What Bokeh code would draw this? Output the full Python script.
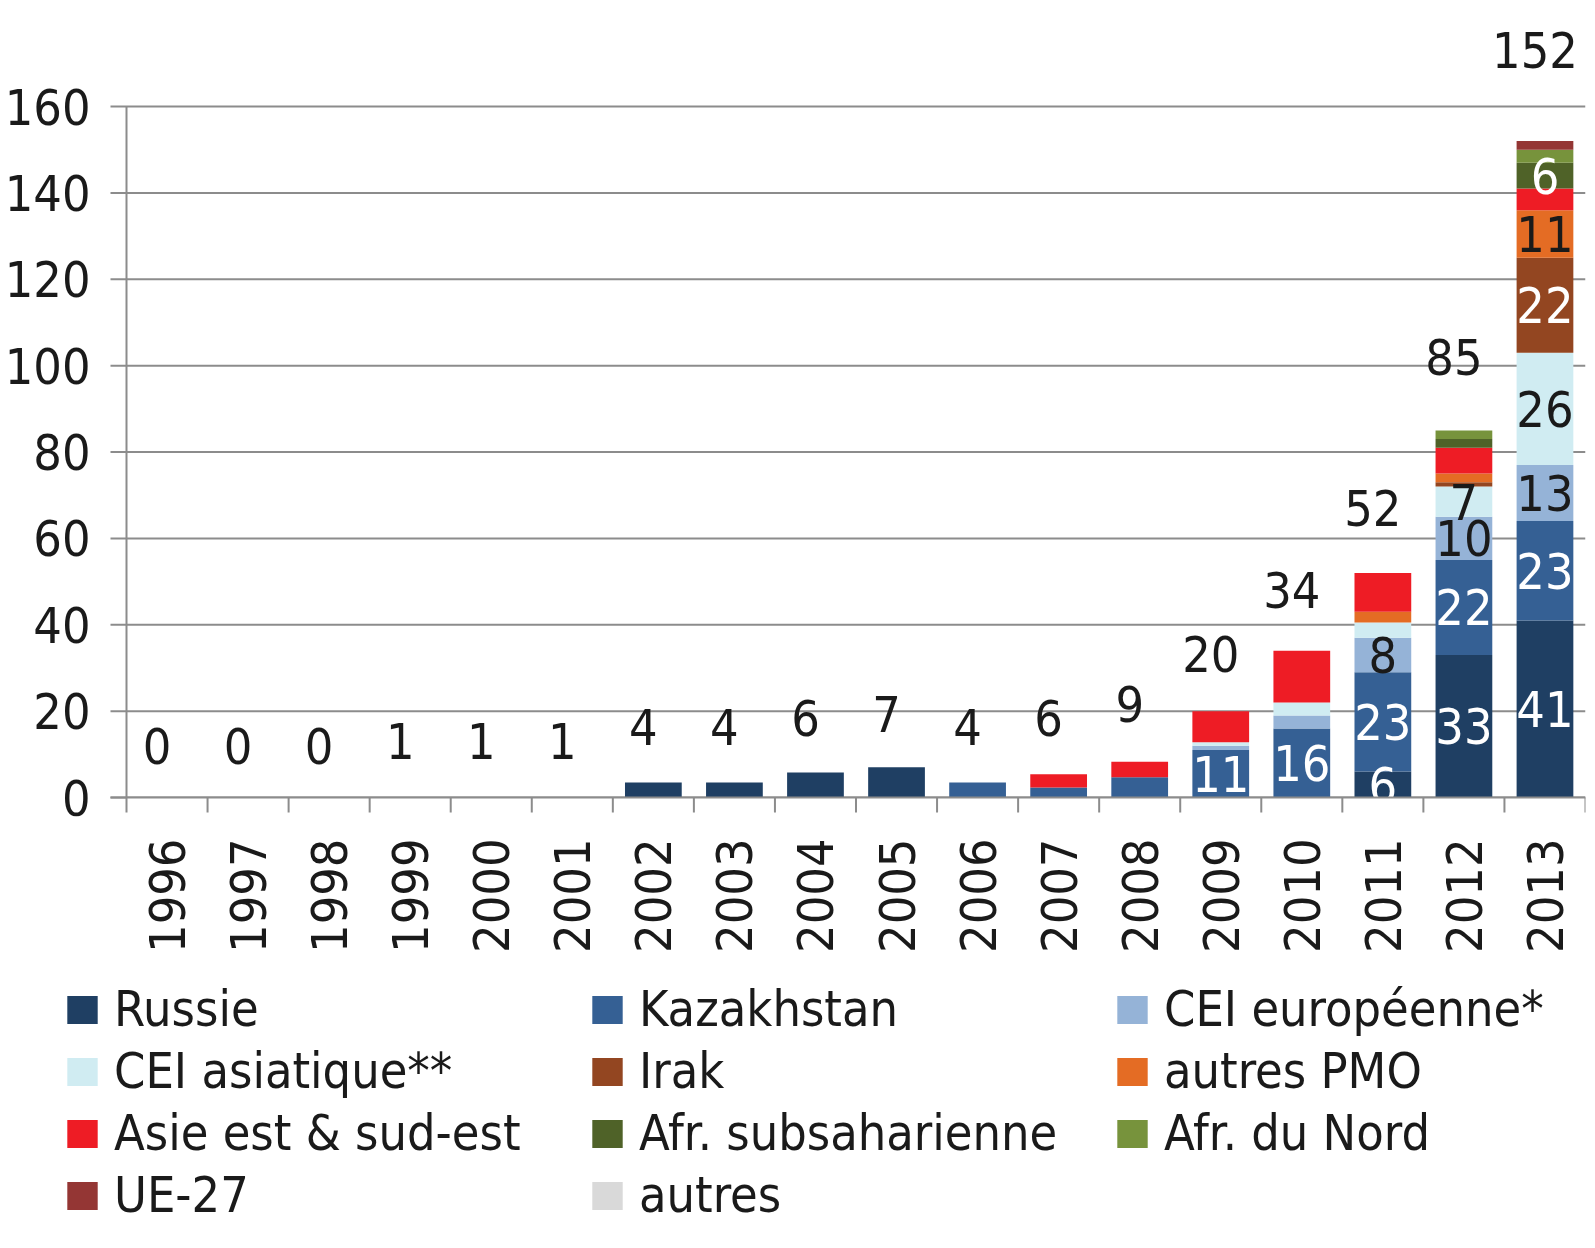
import math
from bokeh.plotting import figure
from bokeh.models import ColumnDataSource, Range1d, FixedTicker, Legend, LegendItem
from bokeh.layouts import column
from bokeh.embed import file_html
from bokeh.resources import INLINE
from bokeh.core.properties import value

# ---------------- data ----------------
years = ["1996", "1997", "1998", "1999", "2000", "2001", "2002", "2003", "2004",
         "2005", "2006", "2007", "2008", "2009", "2010", "2011", "2012", "2013"]
totals = [0, 0, 0, 1, 1, 1, 4, 4, 6, 7, 4, 6, 9, 20, 34, 52, 85, 152]

series_names = ["Russie", "Kazakhstan", "CEI européenne*", "CEI asiatique**", "Irak",
                "autres PMO", "Asie est & sud-est", "Afr. subsaharienne", "Afr. du Nord",
                "UE-27", "autres"]
russie       = [0, 0, 0, 0, 0, 0, 3.5, 3.5, 5.8, 7, 0, 0, 0, 0, 0, 6, 33, 41]
kazakhstan   = [0, 0, 0, 0, 0, 0, 0, 0, 0, 0, 3.5, 2.3, 4.7, 11, 16, 23, 22, 23]
cei_europe   = [0, 0, 0, 0, 0, 0, 0, 0, 0, 0, 0, 0, 0, 1, 3, 8, 10, 13]
cei_asie     = [0, 0, 0, 0, 0, 0, 0, 0, 0, 0, 0, 0, 0, 0.8, 3, 3.5, 7, 26]
irak         = [0, 0, 0, 0, 0, 0, 0, 0, 0, 0, 0, 0, 0, 0, 0, 0, 1, 22]
autres_pmo   = [0, 0, 0, 0, 0, 0, 0, 0, 0, 0, 0, 0, 0, 0, 0, 2.5, 2, 11]
asie_est     = [0, 0, 0, 0, 0, 0, 0, 0, 0, 0, 0, 3.1, 3.6, 7.2, 12, 9, 6, 5]
afr_sub      = [0, 0, 0, 0, 0, 0, 0, 0, 0, 0, 0, 0, 0, 0, 0, 0, 2, 6]
afr_nord     = [0, 0, 0, 0, 0, 0, 0, 0, 0, 0, 0, 0, 0, 0, 0, 0, 2, 3]
ue27         = [0, 0, 0, 0, 0, 0, 0, 0, 0, 0, 0, 0, 0, 0, 0, 0, 0, 2]
autres       = [0, 0, 0, 0, 0, 0, 0, 0, 0, 0, 0, 0, 0, 0, 0, 0, 0, 0]
series_values = [russie, kazakhstan, cei_europe, cei_asie, irak, autres_pmo,
                 asie_est, afr_sub, afr_nord, ue27, autres]

colors = ["#1f3f63", "#356094", "#95b3d7", "#d0ecf2", "#934621", "#e46c24",
          "#ee1c25", "#4f6228", "#77933c", "#943634", "#d9d9d9"]
# segments that carry a value label, and the label colour
label_series = {"Russie": "white", "Kazakhstan": "white", "CEI européenne*": "#1a1a1a",
                "CEI asiatique**": "#1a1a1a", "Irak": "white", "autres PMO": "#1a1a1a",
                "Afr. subsaharienne": "white"}
label_min = 6
label_from_year = "2009"
y_ticks = [0, 20, 40, 60, 80, 100, 120, 140, 160]

FONT = "DejaVu Sans Condensed, Roboto, sans-serif"
TXT = "#1a1a1a"
GRID = "#8c8c8c"
FS = "50px"

# ---------------- geometry (screen px) ----------------
W = 1587
FRAME_W = W - 2            # frame spans the figure from its left edge
AXIS_GAP = 126             # room for the y tick labels, left of the first category
TICK = 16                  # y tick length
XTICK = 15                 # x boundary tick length
PX_PER_Y = 4.319           # vertical scale
Y_TOP = 182                # headroom for the total labels
BELOW = 19                 # room under the zero line inside the frame
n = len(years)
px_per_cat = (FRAME_W - AXIS_GAP) / n
x_start = -0.5 - AXIS_GAP / px_per_cat
x_end = n - 0.5
y_start = -BELOW / PX_PER_Y
frame_h = round((Y_TOP - y_start) * PX_PER_Y)
top_border = 11
bottom_border = 150

# ---------------- chart ----------------
xs = list(range(n))
keys = ["s%d" % i for i in range(len(series_names))]
data = {"x": xs}
for k, v in zip(keys, series_values):
    data[k] = v
source = ColumnDataSource(data)

p = figure(width=W, height=top_border + frame_h + bottom_border,
           x_range=Range1d(x_start, x_end), y_range=Range1d(y_start, Y_TOP),
           output_backend="svg", toolbar_location=None,
           min_border_left=0, min_border_right=2, min_border_top=top_border,
           min_border_bottom=bottom_border)
p.outline_line_color = None
p.background_fill_color = "white"
p.border_fill_color = "white"
p.yaxis.visible = False
p.grid.visible = False

# horizontal grid lines (with their outward tick) and y axis line, under the bars
ny = len(y_ticks)
p.segment(x0=[-0.5 - TICK / px_per_cat] * ny, y0=y_ticks, x1=[x_end] * ny, y1=y_ticks,
          line_color=GRID, line_width=2)
p.segment(x0=[-0.5], y0=[0], x1=[-0.5], y1=[max(y_ticks)], line_color=GRID, line_width=2)

renderers = p.vbar_stack(keys, x="x", width=0.7, color=colors, line_color=None, source=source)

# segment labels
lx, ly, lt, lc = [], [], [], []
start = years.index(label_from_year)
for i in xs:
    bottom = 0
    for name, vals in zip(series_names, series_values):
        v = vals[i]
        if i >= start and name in label_series and v >= label_min:
            lx.append(i)
            ly.append(bottom + v / 2)
            lt.append("%g" % v)
            lc.append(label_series[name])
        bottom += v
p.text(x=lx, y=ly, text=lt, text_color=lc, text_align="center", text_baseline="middle",
       text_font=value(FONT), text_font_size=FS)

# total labels, placed above each bar (gap grows a little with the bar)
label_y = [t * 1.06 + 12 for t in totals]
p.text(x=xs, y=label_y, text=[str(t) for t in totals], text_color=TXT, text_align="center",
       text_baseline="middle", x_offset=-10,
       text_font=value(FONT), text_font_size=FS)

# mask below the zero line (labels are cut at the axis, as in the original)
p.quad(left=[-0.5], right=[x_end], bottom=[y_start], top=[0], fill_color="white",
       line_color=None)
# zero line, x boundary ticks, y tick labels on top
p.segment(x0=[-0.5 - TICK / px_per_cat], y0=[0], x1=[x_end], y1=[0],
          line_color=GRID, line_width=2)
bounds = [i - 0.5 for i in range(n + 1)]
p.segment(x0=bounds, y0=[0] * len(bounds), x1=bounds, y1=[-XTICK / PX_PER_Y] * len(bounds),
          line_color=GRID, line_width=2)
p.text(x=[-0.5] * ny, y=y_ticks, text=[str(t) for t in y_ticks],
       x_offset=-(TICK + 20), text_align="right", text_baseline="middle",
       text_color=TXT, text_font=value(FONT), text_font_size=FS)

# x axis: year labels at category centres (ticks are drawn above)
xax = p.xaxis[0]
xax.ticker = FixedTicker(ticks=xs)
xax.major_label_overrides = {i: y for i, y in zip(xs, years)}
xax.major_label_orientation = math.pi / 2
xax.axis_line_color = None
xax.major_tick_line_color = None
xax.minor_tick_line_color = None
xax.major_tick_out = 0
xax.major_tick_in = 0
xax.major_label_standoff = 22
xax.major_label_text_font = FONT
xax.major_label_text_font_size = FS
xax.major_label_text_color = TXT

# ---------------- legend (3 columns, filled row by row) ----------------
p2 = figure(width=W, height=260, x_range=Range1d(0, 1), y_range=Range1d(0, 1),
            output_backend="svg", toolbar_location=None,
            min_border_left=0, min_border_right=2, min_border_top=0, min_border_bottom=0)
p2.outline_line_color = None
p2.axis.visible = False
p2.grid.visible = False
p2.background_fill_color = "white"
p2.border_fill_color = "white"
# zero-height bars: they only provide the legend swatches
swatches = [p2.vbar(x=[0.5], top=[0], bottom=[0], width=0.1, color=c, line_color=None)
            for c in colors]

ncols = 3
nrows = math.ceil(len(series_names) / ncols)
order = [r * ncols + c for c in range(ncols) for r in range(nrows) if r * ncols + c < len(series_names)]
items = [LegendItem(label=series_names[i], renderers=[swatches[i]]) for i in order]
legend = Legend(items=items, ncols=ncols, location=(63, 0), margin=0, padding=0,
                spacing=0, glyph_width=38, glyph_height=35, label_standoff=13,
                label_width=474, label_height=62, label_text_font=FONT,
                label_text_font_size=FS, label_text_color=TXT,
                border_line_color=None, background_fill_alpha=0)
p2.add_layout(legend, "center")

layout = column(p, p2, spacing=0)
open("out.html", "w").write(file_html(layout, INLINE))
